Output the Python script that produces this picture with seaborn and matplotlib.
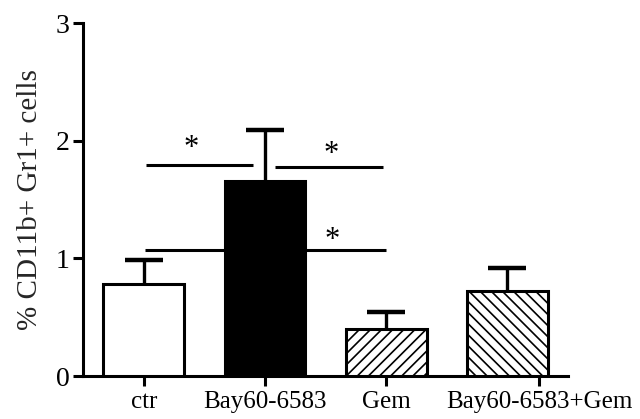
import matplotlib
matplotlib.use("Agg")
import matplotlib.pyplot as plt
import seaborn as sns
import pandas as pd

categories = ["ctr", "Bay60-6583", "Gem", "Bay60-6583+Gem"]
means = [0.78, 1.66, 0.40, 0.72]
errors = [0.21, 0.43, 0.14, 0.20]
facecolors = ["white", "black", "white", "white"]
hatches = ["", "", "///", "\\\\\\"]
x_tick_pos = [0, 1, 2, 3.26]
y_ticks = [0, 1, 2, 3]
y_label = "% CD11b+ Gr1+ cells"

# significance brackets: (x_start, x_end, y)
sig_lines = [(0.02, 0.90, 1.79), (1.08, 1.97, 1.775), (0.01, 2.0, 1.07)]
# asterisks: (x, y)
sig_stars = [(0.39, 1.81), (1.545, 1.76), (1.55, 1.03)]

sns.set_theme(style="ticks")
plt.rcParams['font.family'] = ['Liberation Serif', 'DejaVu Serif']
plt.rcParams['hatch.linewidth'] = 1.2
plt.rcParams['hatch.color'] = 'black'

df = pd.DataFrame({"group": categories, "value": means})

fig = plt.figure(figsize=(6.4, 4.19), dpi=100)
ax = fig.add_axes([0.13, 0.1026, 0.7575, 0.8424])

sns.barplot(data=df, x="group", y="value", order=categories, ax=ax,
            width=0.667, color="white", edgecolor="black", linewidth=2.2,
            errorbar=None, zorder=3)
for patch, fc, h in zip(ax.patches, facecolors, hatches):
    patch.set_facecolor(fc)
    patch.set_hatch(h)
    patch.set_edgecolor("black")

xs = list(range(len(categories)))
eb = ax.errorbar(xs, means, yerr=[[0] * len(errors), errors], fmt="none",
                 ecolor="black", elinewidth=2.4, capsize=14, capthick=3.2, zorder=2)
# hide the lower caps (one-sided error bars)
eb[1][0].set_visible(False)

for x0, x1, y in sig_lines:
    ax.plot([x0, x1], [y, y], color="black", lw=2.2, zorder=1, solid_capstyle="butt")
for x, y in sig_stars:
    ax.text(x, y, "*", ha="center", va="bottom", fontsize=22, color="black")

ax.set_xlim(-0.5, 3.5)
ax.set_ylim(0, 3)
ax.set_xticks(x_tick_pos)
ax.set_xticklabels(categories)
ax.set_yticks(y_ticks)
ax.set_yticklabels([str(t) for t in y_ticks])
ax.set_xlabel("")
ax.set_ylabel(y_label, fontsize=21, labelpad=9)
ax.tick_params(axis="both", length=7.5, width=2.2, direction="out",
               color="black", labelcolor="black")
ax.tick_params(axis="x", labelsize=18, pad=3.5)
ax.tick_params(axis="y", labelsize=20, pad=2.5)
sns.despine(ax=ax)
for s in ["left", "bottom"]:
    ax.spines[s].set_linewidth(2.2)
    ax.spines[s].set_color("black")

fig.savefig("out.png", dpi=100)
